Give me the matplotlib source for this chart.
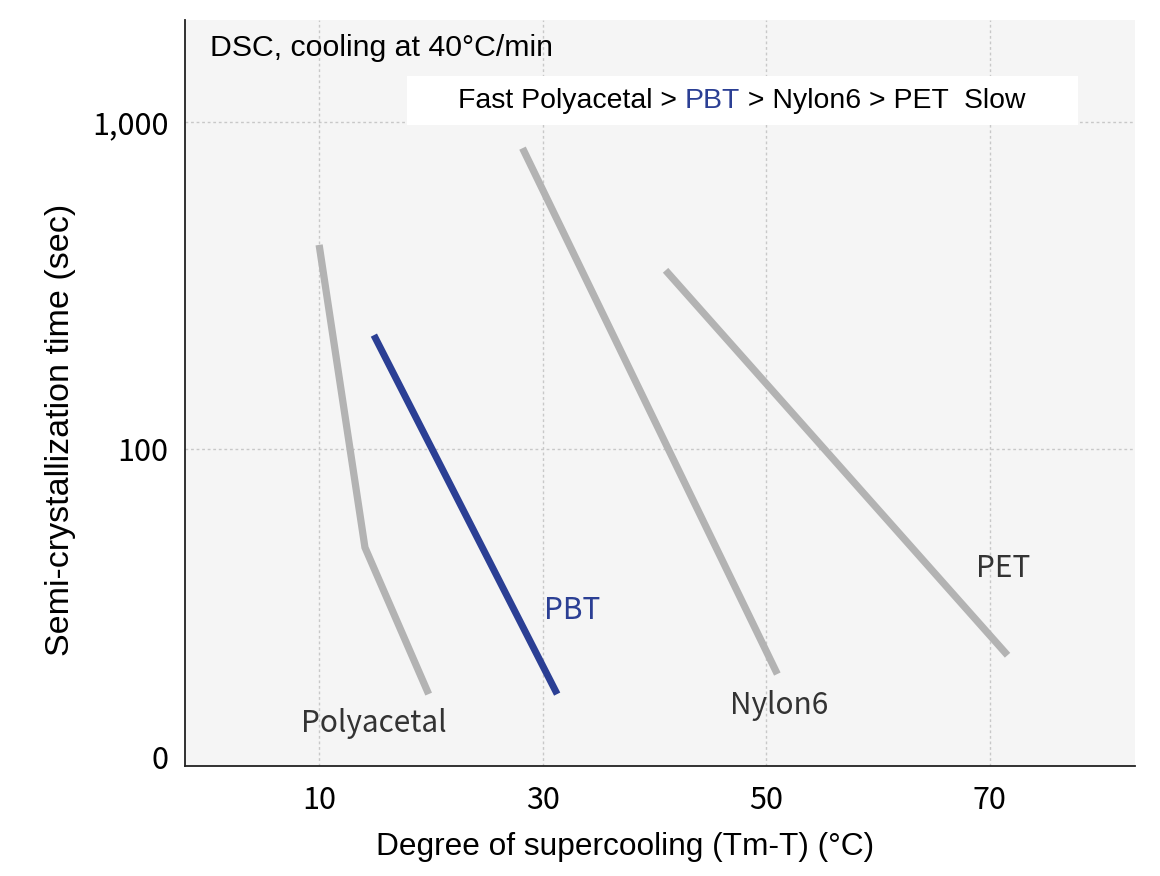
import matplotlib
matplotlib.use("Agg")
import matplotlib.pyplot as plt

# data
polyacetal_x = [10.0, 14.1, 19.8]
polyacetal_y = [421, 50, 17.8]
pbt_x = [14.9, 31.3]
pbt_y = [223, 17.8]
nylon6_x = [28.2, 51.0]
nylon6_y = [832, 20.5]
pet_x = [41.0, 71.6]
pet_y = [352, 23.4]

x_ticks = [10, 30, 50, 70]
y_ticks = [11.4, 100, 1000]
y_tick_labels = ["0", "100", "1,000"]

GRAY = "#b3b3b3"
BLUE = "#2b3f94"
TXT = "#333333"
LABEL_FONT = ["Noto Sans CJK JP", "DejaVu Sans"]
MAIN_FONT = ["Liberation Sans", "DejaVu Sans"]

fig = plt.figure(figsize=(11.6, 8.76), dpi=100)
ax = fig.add_axes([0.1595, 0.1256, 0.8189, 0.8516])
ax.set_facecolor("#f5f5f5")

ax.set_yscale("log")
ax.set_xlim(-2, 83)
ax.set_ylim(10.73, 2052)

# grid
ax.set_xticks(x_ticks)
ax.set_yticks(y_ticks)
ax.minorticks_off()
ax.set_yticklabels(y_tick_labels)
ax.set_xticklabels([str(v) for v in x_ticks])
for v in x_ticks:
    ax.axvline(v, color="#c8c8c8", lw=1, ls=(0, (2, 2)), zorder=0)
for v in y_ticks[1:]:
    ax.axhline(v, color="#c8c8c8", lw=1, ls=(0, (2, 2)), zorder=0)

ax.tick_params(length=0, labelsize=22)
ax.tick_params(axis="y", pad=12)
ax.tick_params(axis="x", pad=14)
for lab in ax.get_xticklabels() + ax.get_yticklabels():
    lab.set_family(LABEL_FONT)

for s in ["top", "right"]:
    ax.spines[s].set_visible(False)
for s in ["left", "bottom"]:
    ax.spines[s].set_linewidth(1.3)
    ax.spines[s].set_color("#222222")

# lines
ax.plot(polyacetal_x, polyacetal_y, color=GRAY, lw=5.2, solid_capstyle="butt", solid_joinstyle="miter")
ax.plot(nylon6_x, nylon6_y, color=GRAY, lw=5.2, solid_capstyle="butt")
ax.plot(pet_x, pet_y, color=GRAY, lw=5.2, solid_capstyle="butt")
ax.plot(pbt_x, pbt_y, color=BLUE, lw=5.0, solid_capstyle="butt")

# material labels
ax.text(14.9, 14.5, "Polyacetal", color=TXT, fontsize=21.5, ha="center", va="center", family=LABEL_FONT)
ax.text(32.6, 32.0, "PBT", color=BLUE, fontsize=21.5, ha="center", va="center", family=LABEL_FONT)
ax.text(51.2, 16.4, "Nylon6", color=TXT, fontsize=21.5, ha="center", va="center", family=LABEL_FONT)
ax.text(71.2, 43.0, "PET", color=TXT, fontsize=21.5, ha="center", va="center", family=LABEL_FONT)

# annotations
ax.text(0.0263, 0.9625, "DSC, cooling at 40°C/min", transform=ax.transAxes,
        fontsize=21.8, ha="left", va="center", family=MAIN_FONT)

ax.add_patch(plt.Rectangle((0.2337, 0.859), 0.7063, 0.066, transform=ax.transAxes,
                           facecolor="white", edgecolor="none", zorder=3))
parts = [("Fast Polyacetal > ", "black"), ("PBT", BLUE), (" > Nylon6 > PET  Slow", "black")]
prev = ax.text(0.2874, 0.8914, parts[0][0], transform=ax.transAxes, color=parts[0][1],
               fontsize=20.4, ha="left", va="center", family=MAIN_FONT, zorder=4)
for txt, col in parts[1:]:
    prev = ax.annotate(txt, xy=(1, 0), xycoords=prev, xytext=(0, 0), textcoords="offset points",
                       color=col, fontsize=20.4, ha="left", va="bottom", family=MAIN_FONT, zorder=4)

ax.set_xlabel("Degree of supercooling (Tm-T) (°C)", fontsize=22.8, family=MAIN_FONT)
ax.set_ylabel("Semi-crystallization time (sec)", fontsize=24.5, family=MAIN_FONT)
ax.xaxis.set_label_coords((625 - 185) / 950, (766 - 847) / 746)
ax.yaxis.set_label_coords((60 - 185) / 950, (766 - 430) / 746)
ax.xaxis.label.set_va("center")
ax.yaxis.label.set_va("center")

fig.savefig("out.png", dpi=100)
